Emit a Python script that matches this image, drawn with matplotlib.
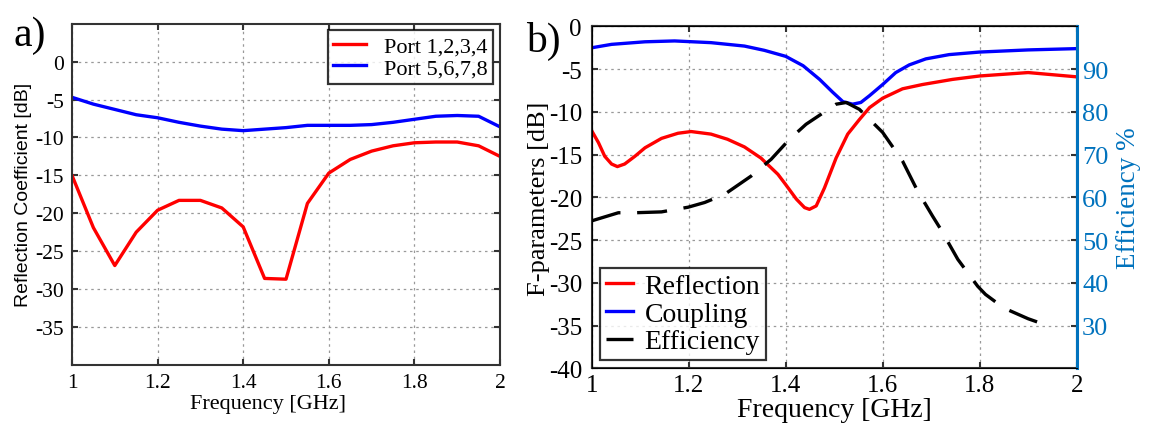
import numpy as np
import matplotlib.pyplot as plt

plt.rcParams['font.family'] = ['Liberation Serif', 'DejaVu Serif']
plt.rcParams['axes.unicode_minus'] = False

# panel a) - reflection coefficient of the ports
freq_a = [1.00, 1.05, 1.10, 1.15, 1.20, 1.25, 1.30, 1.35, 1.40, 1.45, 1.50,
          1.55, 1.60, 1.65, 1.70, 1.75, 1.80, 1.85, 1.90, 1.95, 2.00]
port_1234 = [-15.0, -21.9, -26.9, -22.5, -19.6, -18.3, -18.3, -19.3, -21.8, -28.6, -28.7,
             -18.7, -14.7, -12.9, -11.8, -11.1, -10.7, -10.6, -10.6, -11.1, -12.5]
port_5678 = [-4.7, -5.6, -6.3, -7.0, -7.4, -8.0, -8.5, -8.9, -9.1, -8.9, -8.7,
             -8.4, -8.4, -8.4, -8.3, -8.0, -7.6, -7.2, -7.1, -7.2, -8.6]

# panel b) - F-parameters and efficiency
freq_refl = [1.000, 1.014, 1.027, 1.041, 1.053, 1.068, 1.089, 1.110, 1.144, 1.178,
             1.205, 1.246, 1.280, 1.315, 1.349, 1.384, 1.400, 1.422, 1.439, 1.449,
             1.463, 1.480, 1.504, 1.528, 1.552, 1.573, 1.600, 1.641, 1.682, 1.744,
             1.800, 1.900, 2.000]
reflection = [-12.2, -13.6, -15.2, -16.1, -16.4, -16.1, -15.2, -14.2, -13.1, -12.5,
              -12.3, -12.6, -13.2, -14.1, -15.4, -17.3, -18.5, -20.2, -21.2, -21.4,
              -21.0, -18.9, -15.4, -12.6, -10.9, -9.5, -8.4, -7.3, -6.8, -6.2,
              -5.8, -5.4, -5.9]
freq_coup = [1.000, 1.041, 1.110, 1.171, 1.246, 1.315, 1.356, 1.400, 1.436, 1.470,
             1.497, 1.518, 1.538, 1.555, 1.573, 1.600, 1.627, 1.655, 1.689, 1.737,
             1.800, 1.900, 2.000]
coupling = [-2.5, -2.1, -1.8, -1.7, -1.9, -2.3, -2.8, -3.5, -4.6, -6.2,
            -7.7, -8.8, -9.1, -8.9, -8.1, -6.8, -5.4, -4.5, -3.8, -3.3,
            -3.0, -2.75, -2.6]
freq_eff = [1.000, 1.055, 1.089, 1.144, 1.199, 1.233, 1.274, 1.329, 1.370, 1.408,
            1.442, 1.504, 1.525, 1.552, 1.600, 1.641, 1.672, 1.703, 1.720, 1.755,
            1.796, 1.812, 1.850, 1.900, 1.940]
efficiency = [54.5, 56.4, 56.4, 56.6, 57.7, 58.8, 60.7, 65.0, 68.9, 73.6,
              77.1, 81.8, 82.2, 80.6, 75.2, 68.5, 61.5, 55.6, 52.5, 45.5,
              39.2, 37.3, 34.1, 31.6, 30.0]

xticks = [1, 1.2, 1.4, 1.6, 1.8, 2]
xlabels = ['1', '1.2', '1.4', '1.6', '1.8', '2']
eff_blue = '#0072bd'
spine_col = '#333333'

fig = plt.figure(figsize=(11.5, 4.35), dpi=100)

ax1 = fig.add_axes([0.0626, 0.159, 0.3722, 0.784])
ax1.plot(freq_a, port_1234, color='red', lw=2.4, label='Port 1,2,3,4')
ax1.plot(freq_a, port_5678, color='blue', lw=2.4, label='Port 5,6,7,8')
ax1.set_xlim(1, 2)
ax1.set_ylim(-40, 5)
ax1.set_xticks(xticks, xlabels)
ax1.set_yticks(np.arange(-35, 1, 5))
ax1.grid(True, ls=(0, (2, 3)), color='#999999', lw=0.9)
ax1.tick_params(direction='in', top=True, right=True, labelsize=15.5, length=4,
                width=1.5, color=spine_col, pad=6)
ax1.set_xlabel('Frequency [GHz]', fontsize=16)
ax1.xaxis.set_label_coords(0.458, -0.085)
ax1.set_ylabel('Reflection Coefficient [dB]', fontsize=14,
               family=['Liberation Sans', 'DejaVu Sans'], labelpad=2)
for s in ax1.spines.values():
    s.set_color(spine_col)
    s.set_linewidth(1.5)
leg = ax1.legend(loc='upper right', fontsize=16, frameon=True, fancybox=False,
                 edgecolor='black', handlelength=1.5, borderpad=0.25,
                 labelspacing=0.05, handletextpad=0.8, borderaxespad=0.3)
leg.get_frame().set_linewidth(1.6)
fig.text(0.012, 0.895, 'a)', fontsize=30)

ax2 = fig.add_axes([0.5145, 0.151, 0.4217, 0.786])
l1, = ax2.plot(freq_refl, reflection, color='red', lw=2.4, label='Reflection')
l2, = ax2.plot(freq_coup, coupling, color='blue', lw=2.4, label='Coupling')
ax2.set_xlim(1, 2)
ax2.set_ylim(-40, 0)
ax2.set_xticks(xticks, xlabels)
ax2.set_yticks(np.arange(-40, 1, 5))
ax2.grid(True, ls=(0, (2, 3)), color='#999999', lw=0.9)
ax2.tick_params(direction='in', top=True, right=True, labelsize=18, length=4,
                width=1.5, color=spine_col, pad=7)
ax2.tick_params(axis='x', pad=4)
ax2.set_xlabel('Frequency [GHz]', fontsize=20, labelpad=1)
ax2.set_ylabel('F-parameters [dB]', fontsize=19, labelpad=-1)
for s in ax2.spines.values():
    s.set_color(spine_col)
    s.set_linewidth(1.5)

ax3 = ax2.twinx()
l3, = ax3.plot(freq_eff, efficiency, color='black', lw=2.4, dashes=(9, 5),
               label='Efficiency')
ax3.set_ylim(20, 100)
ax3.set_yticks(np.arange(30, 91, 10))
ax3.tick_params(axis='y', direction='in', color=spine_col, labelcolor=eff_blue,
                labelsize=19, length=4, width=1.5, pad=4)
ax3.spines['right'].set_color(eff_blue)
ax3.spines['right'].set_linewidth(2.2)
ax3.set_ylabel('Efficiency %', fontsize=19.5, color=eff_blue, labelpad=5)

leg2 = ax3.legend(handles=[l1, l2, l3], loc='lower left', fontsize=20, frameon=True,
                  fancybox=False, edgecolor='black', handlelength=1.0,
                  borderpad=0.2, labelspacing=0.08, handletextpad=0.4,
                  borderaxespad=0.3)
leg2.get_frame().set_linewidth(1.6)
fig.text(0.457, 0.88, 'b)', fontsize=30)

fig.savefig('out.png', dpi=100)
